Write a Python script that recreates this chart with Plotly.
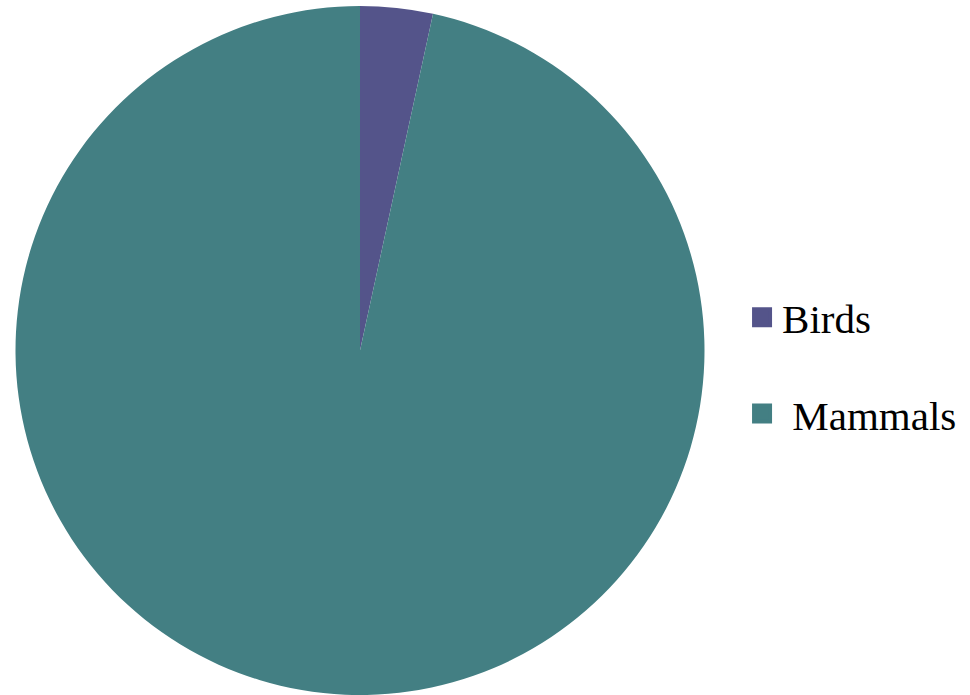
import plotly.graph_objects as go

labels = ["Birds", "\u00a0Mammals"]
values = [3.4, 96.6]
colors = ["#54548A", "#437F83"]

fig = go.Figure()
fig.add_trace(go.Pie(
    labels=labels, values=values, sort=False, direction="clockwise", rotation=0,
    marker=dict(colors=colors, line=dict(width=0)), textinfo="none",
    domain=dict(x=[15/970, 705/970], y=[0, 1 - 6/695]), showlegend=False,
))
for i, (lab, col) in enumerate(zip(labels, colors)):
    fig.add_trace(go.Scatter(
        x=[None], y=[None], mode="markers", name=lab, legendgroup=f"g{i}",
        marker=dict(symbol="square", size=16, color=col, line=dict(color=col, width=4)),
        showlegend=True,
    ))

fig.update_layout(
    width=970, height=695, margin=dict(l=0, r=0, t=0, b=0),
    paper_bgcolor="white", plot_bgcolor="white",
    xaxis=dict(visible=False), yaxis=dict(visible=False),
    legend=dict(x=0.765, y=0.474, xanchor="left", yanchor="middle",
                font=dict(family="Liberation Serif", size=41, color="black"),
                tracegroupgap=40, bgcolor="rgba(0,0,0,0)"),
)
fig.write_html("out.html", config={"displayModeBar": False},
               post_script="document.body.style.margin='0';")
